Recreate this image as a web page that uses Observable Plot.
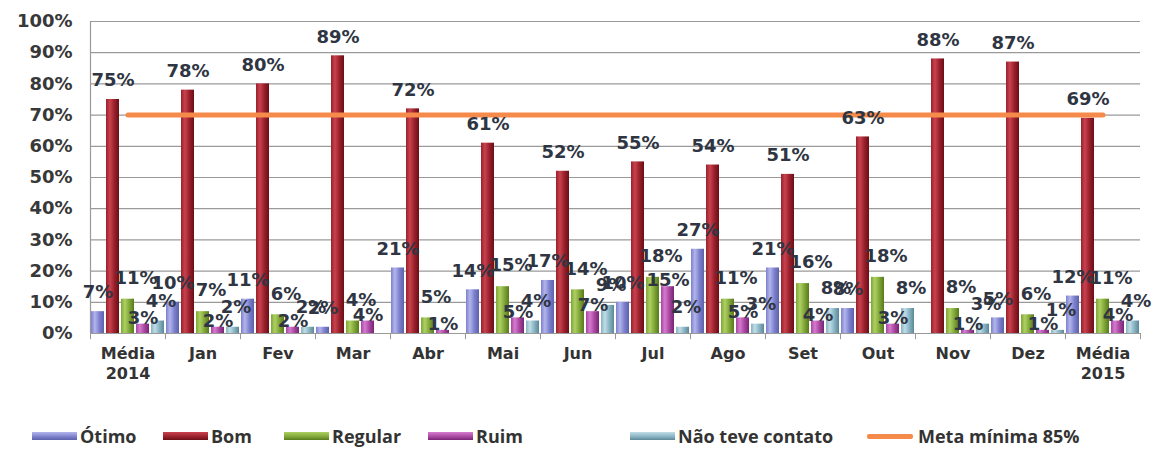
<!DOCTYPE html>
<html>
<head>
<meta charset="utf-8">
<script src="https://cdn.jsdelivr.net/npm/d3@7"></script>
<script src="https://cdn.jsdelivr.net/npm/@observablehq/plot@0.6"></script>
<style>
  html, body { margin: 0; padding: 0; background: #fff; }
  #wrap { position: relative; width: 1157px; height: 472px; }
  #legend { position: relative; width: 1157px; height: 72px; font-family: "Open Sans", sans-serif; font-weight: 700; font-size: 18px; color: #333; }
  .item { position: absolute; top: 24px; display: flex; align-items: center; white-space: nowrap; }
  .sw { width: 45px; height: 8px; margin-right: 3px; }
  .line { width: 46px; height: 5px; margin-right: 5px; background: #f58a4b; border-radius: 2px; }
</style>
</head>
<body>
<div id="wrap"></div>
<script>
const categories = ["Média\n2014","Jan","Fev","Mar","Abr","Mai","Jun","Jul","Ago","Set","Out","Nov","Dez","Média\n2015"];
const seriesNames = ["Ótimo","Bom","Regular","Ruim","Não teve contato"];
const otimo   = [7,10,11,2,21,14,17,10,27,21,8,0,5,12];
const bom     = [75,78,80,89,72,61,52,55,54,51,63,88,87,69];
const regular = [11,7,6,4,5,15,14,18,11,16,18,8,6,11];
const ruim    = [3,2,2,4,1,5,7,15,5,4,3,1,1,4];
const naoTeve = [4,2,2,0,0,4,9,2,3,8,8,3,1,4];
const meta    = [70,70,70,70,70,70,70,70,70,70,70,70,70,70];
const metaName = "Meta mínima 85%";
const yTicks = [0,10,20,30,40,50,60,70,80,90,100];

const seriesValues = [otimo, bom, regular, ruim, naoTeve];
const colors = [
  ["#5d60aa","#b3b5ec","#7c80cc"],
  ["#6a0e17","#c8424e","#98202b"],
  ["#587a1d","#aed062","#7fa637"],
  ["#772574","#d57bcf","#a8469f"],
  ["#5b8797","#c0dde6","#87b2c2"]
];
const bw = 15;
// label offsets per series (style only)
const labelDx = [0, 0, 8, 0, 3];
const labelDy = [-19, -19, -21, -6, -20];

const rows = seriesValues.map((vals, i) => vals.map((v, j) => ({cat: categories[j], value: v, s: i})));
const metaRows = categories.map((c, j) => ({cat: c, value: meta[j]}));

const font = "DejaVu Sans, Verdana, sans-serif";
const marks = [
  Plot.gridY(yTicks, {stroke: "#9a9a9a", strokeOpacity: 1, strokeWidth: 1.2}),
  Plot.ruleX([categories[0]], {dx: -37.5, y1: 0, y2: 100, stroke: "#9a9a9a", strokeWidth: 1.2}),
  Plot.ruleX(categories, {x: d => d, y1: 0, y2: -2, dx: -37.5, stroke: "#9a9a9a"}),
  Plot.ruleX([categories[categories.length - 1]], {y1: 0, y2: -2, dx: 37.5, stroke: "#9a9a9a"})
];
rows.forEach((r, i) => {
  marks.push(Plot.barY(r.filter(d => d.value > 0), {
    x: "cat", y: "value", fill: `url(#g${i})`,
    insetLeft: i * bw + 1, insetRight: (4 - i) * bw + 1
  }));
});
marks.push(Plot.lineY(metaRows, {x: "cat", y: "value", stroke: "#f58a4b", strokeWidth: 5}));
rows.forEach((r, i) => {
  marks.push(Plot.text(r.filter(d => d.value > 0), {
    x: "cat", y: "value", text: d => d.value + "%",
    dx: (i - 2) * bw + labelDx[i], dy: labelDy[i], fontSize: 18, fontWeight: "bold", fill: "#2f3542", fontFamily: font
  }));
});
marks.push(Plot.axisY({ticks: yTicks, tickFormat: d => d + "%", tickSize: 0, tickPadding: 18, fontSize: 18, fontWeight: "bold", fill: "#383838", fontFamily: font, label: null}));
marks.push(Plot.axisX({tickSize: 0, tickPadding: 11, fontSize: 16, fontWeight: "bold", fill: "#333", fontFamily: font, label: null, lineAnchor: "top", lineHeight: 1.25}));

const chart = Plot.plot({
  width: 1157, height: 400,
  marginLeft: 90, marginRight: 17, marginTop: 21, marginBottom: 67,
  x: {domain: categories, padding: 0},
  y: {domain: [0, 100]},
  style: {fontFamily: font, background: "transparent", overflow: "visible"},
  marks
});

const ns = "http://www.w3.org/2000/svg";
const defs = document.createElementNS(ns, "defs");
colors.forEach((c, i) => {
  const g = document.createElementNS(ns, "linearGradient");
  g.setAttribute("id", "g" + i);
  g.setAttribute("x1", "0"); g.setAttribute("x2", "1"); g.setAttribute("y1", "0"); g.setAttribute("y2", "0");
  [[0, c[2]], [0.3, c[1]], [0.65, c[2]], [1, c[0]]].forEach(([o, col]) => {
    const st = document.createElementNS(ns, "stop");
    st.setAttribute("offset", o); st.setAttribute("stop-color", col);
    g.appendChild(st);
  });
  defs.appendChild(g);
});
chart.insertBefore(defs, chart.firstChild);

const wrap = document.getElementById("wrap");
wrap.appendChild(chart);

const legend = document.createElement("div");
legend.id = "legend";
const lx = [32, 163, 284, 428, 630];
seriesNames.forEach((name, i) => {
  const it = document.createElement("div");
  it.className = "item";
  it.style.left = lx[i] + "px";
  const sw = document.createElement("div");
  sw.className = "sw";
  sw.style.background = `linear-gradient(to bottom, ${colors[i][1]}, ${colors[i][2]} 60%, ${colors[i][0]})`;
  it.appendChild(sw);
  const t = document.createElement("span");
  t.textContent = name;
  it.appendChild(t);
  legend.appendChild(it);
});
const mi = document.createElement("div");
mi.className = "item";
mi.style.left = "867px";
const ml = document.createElement("div");
ml.className = "line";
mi.appendChild(ml);
const mt = document.createElement("span");
mt.textContent = metaName;
mi.appendChild(mt);
legend.appendChild(mi);
wrap.appendChild(legend);
</script>
</body>
</html>
